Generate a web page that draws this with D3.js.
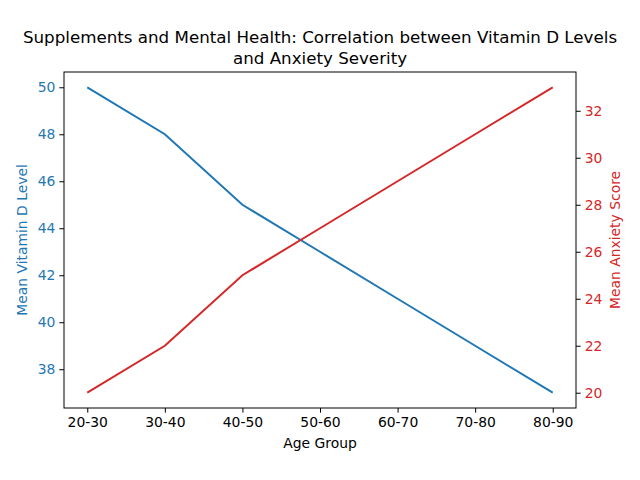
<!DOCTYPE html>
<html>
<head>
<meta charset="utf-8">
<script src="https://cdn.jsdelivr.net/npm/d3@7"></script>
<style>
  body { margin: 0; background: #fff; }
  svg text { font-family: "DejaVu Sans", sans-serif; }
</style>
</head>
<body>
<div id="chart"></div>
<script>
let ageGroups = ["20-30", "30-40", "40-50", "50-60", "60-70", "70-80", "80-90"];
let vitaminD = [50, 48, 45, 43, 41, 39, 37];
let anxiety = [20, 22, 25, 27, 29, 31, 33];
let leftTicks = [38, 40, 42, 44, 46, 48, 50];
let rightTicks = [20, 22, 24, 26, 28, 30, 32];

let blue = "#1f77b4", red = "#d62728";

let margin = {container_width: 640, container_height: 480, top: 72, right: 64, bottom: 72, left: 64},
    width = margin.container_width - margin.left - margin.right,
    height = margin.container_height - margin.top - margin.bottom;

let svg = d3.select("#chart")
    .append("svg")
    .attr("width", margin.container_width)
    .attr("height", margin.container_height)
    .append("g")
    .attr("transform", "translate(" + margin.left + "," + margin.top + ")");

// matplotlib style 5% padding
function pad(lo, hi) {
    let m = (hi - lo) * 0.05;
    return [lo - m, hi + m];
}

let x = d3.scaleLinear()
    .domain(pad(0, ageGroups.length - 1))
    .range([0, width]);

let yLeft = d3.scaleLinear()
    .domain(pad(d3.min(vitaminD), d3.max(vitaminD)))
    .range([height, 0]);

let yRight = d3.scaleLinear()
    .domain(pad(d3.min(anxiety), d3.max(anxiety)))
    .range([height, 0]);

let xAxis = svg.append("g")
    .attr("transform", "translate(0," + height + ")")
    .call(d3.axisBottom(x)
        .tickValues(d3.range(ageGroups.length))
        .tickFormat(function(i) { return ageGroups[i]; })
        .tickSize(4.7).tickPadding(4));

let leftAxis = svg.append("g")
    .call(d3.axisLeft(yLeft).tickValues(leftTicks).tickSize(4.7).tickPadding(4));

let rightAxis = svg.append("g")
    .attr("transform", "translate(" + width + ",0)")
    .call(d3.axisRight(yRight).tickValues(rightTicks).tickSize(4.7).tickPadding(4));

[xAxis, leftAxis, rightAxis].forEach(function(a) {
    a.select(".domain").remove();
    a.selectAll("text").style("font-size", "13.9px").attr("font-family", "DejaVu Sans");
    a.selectAll("line").attr("stroke", "#000").attr("stroke-width", 1);
});
xAxis.selectAll("text").attr("fill", "#000");
leftAxis.selectAll("text").attr("fill", blue);
rightAxis.selectAll("text").attr("fill", red);

// frame
svg.append("rect")
    .attr("width", width)
    .attr("height", height)
    .attr("fill", "none")
    .attr("stroke", "#000")
    .attr("stroke-width", 1);

let vLine = d3.line()
    .x(function(d, i) { return x(i); })
    .y(function(d) { return yLeft(d); });

let aLine = d3.line()
    .x(function(d, i) { return x(i); })
    .y(function(d) { return yRight(d); });

svg.append("path")
    .datum(vitaminD)
    .attr("d", vLine)
    .attr("fill", "none")
    .attr("stroke", blue)
    .attr("stroke-width", 2);

svg.append("path")
    .datum(anxiety)
    .attr("d", aLine)
    .attr("fill", "none")
    .attr("stroke", red)
    .attr("stroke-width", 2);

// labels
svg.append("text")
    .attr("x", width / 2)
    .attr("y", height + 40)
    .attr("text-anchor", "middle")
    .style("font-size", "13.9px")
    .text("Age Group");

svg.append("text")
    .attr("transform", "translate(" + (-37) + "," + (height / 2) + ") rotate(-90)")
    .attr("text-anchor", "middle")
    .attr("fill", blue)
    .style("font-size", "13.9px")
    .text("Mean Vitamin D Level");

svg.append("text")
    .attr("transform", "translate(" + (width + 44) + "," + (height / 2) + ") rotate(-90)")
    .attr("text-anchor", "middle")
    .attr("fill", red)
    .style("font-size", "13.9px")
    .text("Mean Anxiety Score");

let title = svg.append("text")
    .attr("text-anchor", "middle")
    .style("font-size", "16.7px");
title.append("tspan").attr("x", width / 2).attr("y", -29)
    .text("Supplements and Mental Health: Correlation between Vitamin D Levels");
title.append("tspan").attr("x", width / 2).attr("y", -8)
    .text("and Anxiety Severity");
</script>
</body>
</html>
